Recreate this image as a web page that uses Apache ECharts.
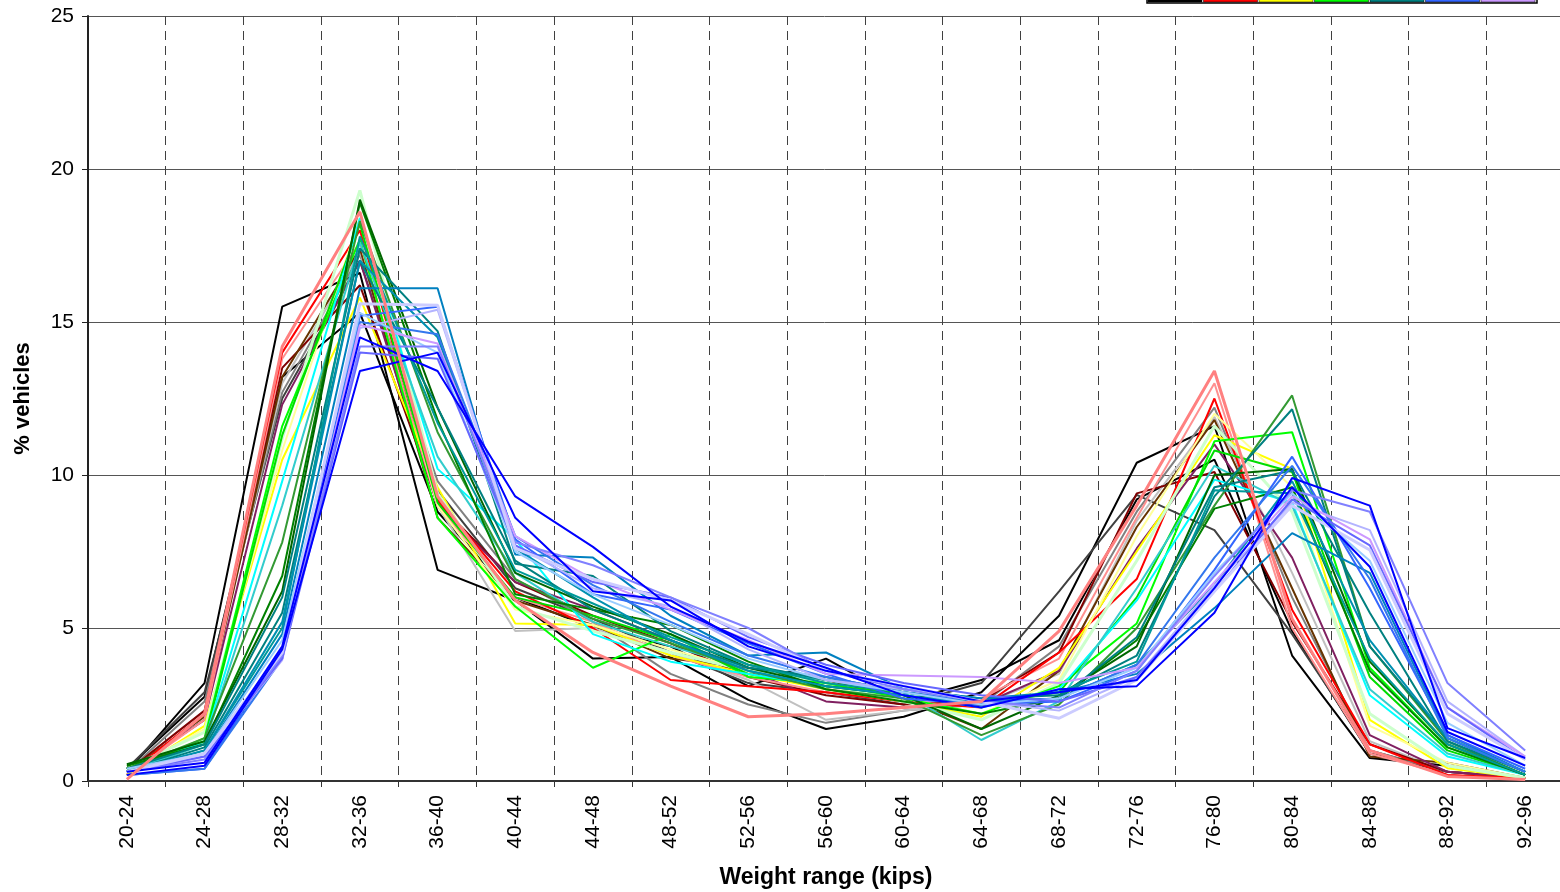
<!DOCTYPE html>
<html>
<head>
<meta charset="utf-8">
<script src="https://cdn.jsdelivr.net/npm/echarts@6/dist/echarts.min.js"></script>
<style>
  html, body { margin: 0; padding: 0; background: #fff; }
  #root { width: 1560px; height: 892px; }
</style>
</head>
<body>
<div id="root"></div>
<script>
// weight bins (kips)
const categories = ['20-24','24-28','28-32','32-36','36-40','40-44','44-48','48-52','52-56','56-60',
                    '60-64','64-68','68-72','72-76','76-80','80-84','84-88','88-92','92-96'];
const yTicks = [0, 5, 10, 15, 20, 25];

// % vehicles per bin, one array per station/year
const black1    = [0.3, 3.2, 15.5, 16.6, 6.9, 5.9, 4.0, 4.05, 2.65, 1.7, 2.1, 2.9, 5.4, 10.4, 11.6, 4.1, 0.75, 0.5, 0.1];
const black2    = [0.4, 2.75, 13.2, 15.3, 8.8, 6.0, 5.0, 4.4, 3.1, 4.0, 2.6, 3.3, 4.6, 9.2, 10.5, 4.9, 0.9, 0.3, 0.1];
const darkGray  = [0.4, 2.9, 12.5, 17.0, 9.5, 6.3, 5.3, 4.2, 3.2, 2.9, 2.5, 3.2, 6.2, 9.35, 8.2, 4.8, 1.0, 0.3, 0.1];
const gray      = [0.3, 2.6, 12.7, 17.2, 9.8, 6.6, 5.2, 3.5, 2.5, 1.9, 2.3, 2.5, 4.4, 8.8, 12.2, 6.0, 1.0, 0.3, 0.1];
const silver    = [0.3, 2.3, 13.0, 17.3, 9.0, 4.9, 5.0, 4.2, 3.3, 2.0, 2.3, 2.5, 3.5, 8.5, 11.9, 6.8, 1.3, 0.3, 0.1];
const darkRed   = [0.3, 2.3, 13.5, 16.2, 9.1, 6.5, 5.4, 4.5, 3.4, 2.8, 2.5, 2.6, 4.2, 9.4, 10.1, 5.2, 1.2, 0.3, 0.1];
const red       = [0.2, 2.2, 14.0, 18.0, 9.2, 6.2, 5.0, 3.3, 3.1, 2.9, 2.6, 2.4, 4.2, 6.6, 12.5, 5.6, 1.2, 0.2, 0.1];
const salmon    = [0.05, 2.2, 14.2, 18.6, 9.3, 5.9, 4.2, 3.1, 2.1, 2.2, 2.4, 2.6, 4.9, 9.0, 13.4, 5.3, 1.0, 0.15, 0.05];
const pink      = [0.2, 2.0, 13.8, 17.6, 9.0, 6.0, 5.2, 4.1, 3.4, 2.9, 2.6, 2.7, 4.0, 8.6, 13.0, 5.0, 0.9, 0.2, 0.05];
const brown     = [0.3, 2.1, 13.2, 17.4, 8.6, 5.9, 5.1, 4.0, 3.7, 3.3, 2.7, 1.7, 3.6, 8.3, 11.8, 6.3, 0.8, 0.6, 0.1];
const plum      = [0.3, 2.0, 12.3, 17.0, 9.0, 6.5, 5.6, 4.6, 3.6, 2.6, 2.4, 2.5, 3.6, 7.6, 11.0, 7.3, 1.5, 0.3, 0.1];
const yellow    = [0.2, 1.8, 10.5, 15.8, 9.6, 5.15, 5.1, 4.1, 3.5, 3.0, 2.6, 2.1, 3.7, 7.5, 11.3, 10.2, 2.0, 0.42, 0.1];
const lightYel  = [0.3, 1.7, 10.8, 18.4, 9.0, 5.6, 5.1, 4.3, 3.6, 3.1, 2.7, 2.2, 3.3, 8.0, 12.0, 9.6, 1.8, 0.6, 0.1];
const paleGreen = [0.4, 1.6, 11.2, 19.3, 9.4, 5.7, 4.9, 4.2, 3.6, 3.2, 2.6, 2.0, 3.2, 7.2, 11.6, 8.8, 2.2, 0.5, 0.1];
const lime      = [0.3, 1.4, 11.6, 17.7, 8.6, 5.7, 3.7, 4.8, 3.4, 3.2, 2.7, 2.2, 3.1, 5.15, 11.1, 11.4, 3.7, 1.1, 0.2];
const lime2     = [0.4, 1.3, 11.3, 18.2, 9.1, 6.0, 5.4, 4.6, 3.5, 3.1, 2.9, 2.5, 2.9, 6.0, 10.8, 10.1, 3.4, 1.0, 0.2];
const cyan      = [0.3, 1.3, 9.8, 18.4, 10.2, 7.9, 4.8, 3.9, 3.5, 3.1, 2.8, 2.4, 3.0, 5.9, 9.85, 9.1, 2.8, 0.8, 0.2];
const turquoise = [0.3, 1.2, 9.0, 17.6, 10.6, 6.8, 5.2, 4.4, 3.7, 3.3, 2.9, 1.34, 2.6, 6.3, 10.3, 9.0, 3.0, 0.9, 0.2];
const forest    = [0.4, 1.4, 7.8, 18.3, 11.4, 6.6, 5.3, 4.5, 3.6, 3.0, 2.7, 1.5, 2.5, 5.0, 9.0, 12.6, 4.4, 1.3, 0.2];
const green     = [0.5, 1.2, 6.7, 18.9, 11.8, 6.1, 5.6, 5.1, 3.9, 3.0, 2.6, 2.2, 2.7, 4.6, 8.9, 9.6, 3.6, 1.1, 0.2];
const darkGreen = [0.55, 1.3, 6.2, 19.0, 12.2, 6.8, 5.7, 4.8, 3.7, 3.1, 2.8, 1.7, 2.8, 4.4, 10.0, 10.2, 3.9, 1.2, 0.2];
const teal1     = [0.4, 1.2, 6.0, 17.4, 14.7, 7.1, 6.7, 4.9, 3.8, 3.3, 3.0, 2.7, 2.8, 4.1, 9.3, 12.15, 4.4, 1.4, 0.3];
const teal2     = [0.3, 1.1, 5.5, 17.0, 12.2, 7.2, 5.6, 4.6, 3.7, 3.4, 2.9, 2.6, 2.7, 4.7, 9.6, 10.15, 5.5, 1.3, 0.3];
const teal3     = [0.3, 1.0, 5.0, 17.8, 11.7, 6.9, 5.8, 4.7, 3.8, 3.2, 2.9, 2.6, 2.9, 3.9, 9.5, 9.4, 4.0, 1.2, 0.2];
const tealBlue  = [0.3, 0.9, 4.8, 16.1, 16.1, 7.4, 7.3, 5.4, 4.1, 4.2, 3.0, 2.7, 2.9, 3.5, 5.65, 8.1, 6.8, 1.5, 0.3];
const ocean     = [0.3, 1.0, 5.2, 17.0, 14.5, 7.6, 6.0, 4.6, 3.6, 3.1, 2.8, 2.5, 2.7, 3.8, 6.4, 9.8, 4.6, 1.4, 0.3];
const steelBlue = [0.2, 0.4, 4.2, 15.2, 15.5, 7.9, 6.1, 5.6, 4.5, 3.5, 2.7, 2.5, 2.6, 3.6, 6.9, 10.6, 6.3, 1.5, 0.4];
const royal     = [0.2, 0.4, 4.0, 15.0, 14.6, 8.0, 6.4, 5.2, 4.1, 3.4, 2.9, 2.6, 2.7, 3.8, 7.3, 10.3, 6.6, 1.4, 0.3];
const blue1     = [0.3, 0.6, 4.4, 14.5, 13.4, 9.3, 7.65, 5.7, 4.55, 3.7, 2.8, 2.4, 3.0, 3.1, 5.5, 9.9, 9.0, 1.73, 0.75];
const blue2     = [0.2, 0.5, 4.3, 13.4, 14.0, 8.6, 6.2, 5.9, 4.4, 3.6, 3.1, 2.6, 2.9, 3.3, 6.3, 9.6, 7.0, 1.6, 0.5];
const periwink1 = [0.3, 0.7, 4.1, 14.2, 14.2, 7.8, 7.05, 6.0, 5.0, 3.6, 3.0, 2.6, 2.4, 3.6, 6.7, 9.5, 8.8, 3.2, 1.0];
const periwink2 = [0.3, 0.8, 4.0, 14.0, 13.8, 7.7, 6.5, 6.0, 4.7, 3.8, 3.2, 2.8, 2.6, 3.4, 6.2, 9.2, 7.7, 2.4, 0.7];
const lavender  = [0.3, 0.8, 4.0, 14.9, 14.3, 8.0, 6.6, 5.6, 4.6, 3.5, 3.45, 3.4, 3.2, 3.7, 6.5, 9.3, 7.9, 2.4, 0.8];
const lightLav  = [0.3, 0.9, 4.2, 15.6, 15.55, 7.6, 6.6, 5.9, 4.8, 3.6, 3.1, 2.6, 2.05, 3.3, 6.2, 9.0, 7.55, 2.2, 0.7];
const lightLav2 = [0.3, 0.8, 3.95, 14.8, 15.4, 7.7, 6.3, 5.7, 4.3, 3.3, 3.0, 2.6, 2.3, 3.4, 6.4, 9.1, 8.2, 2.6, 0.8];
const lightBlue = [0.4, 0.9, 4.6, 15.3, 14.0, 7.5, 6.1, 5.1, 4.0, 3.3, 2.9, 2.5, 2.7, 3.7, 6.8, 9.4, 7.2, 1.9, 0.5];

// legend swatch colours (top right, mostly cut off)
const legendColors = ['#000000', '#ff0000', '#ffff00', '#00ff00', '#008080', '#3366ff', '#cc99ff'];

// [name, data, colour, width]
const lines = [
  ['black1', black1, '#000000', 2], ['black2', black2, '#000000', 2], ['darkGray', darkGray, '#404040', 2],
  ['gray', gray, '#808080', 2], ['silver', silver, '#c0c0c0', 2], ['darkRed', darkRed, '#800000', 2],
  ['brown', brown, '#663300', 2], ['plum', plum, '#802060', 2], ['pink', pink, '#ff9090', 2],
  ['red', red, '#ff0000', 2], ['yellow', yellow, '#ffff00', 2], ['lightYel', lightYel, '#ffff99', 2],
  ['paleGreen', paleGreen, '#ccffcc', 3], ['lime', lime, '#00ff00', 2], ['lime2', lime2, '#00dd00', 2],
  ['cyan', cyan, '#00ffff', 2], ['turquoise', turquoise, '#33cccc', 2], ['forest', forest, '#339933', 2],
  ['green', green, '#008000', 2], ['darkGreen', darkGreen, '#006600', 2], ['teal1', teal1, '#008080', 2],
  ['teal2', teal2, '#008080', 2], ['teal3', teal3, '#009999', 2], ['ocean', ocean, '#0090b0', 2],
  ['tealBlue', tealBlue, '#0080c0', 2], ['steelBlue', steelBlue, '#3366ff', 2], ['royal', royal, '#3377ee', 2],
  ['lightBlue', lightBlue, '#99ccff', 2], ['lightLav2', lightLav2, '#b3b3ff', 2], ['lavender', lavender, '#cc99ff', 2],
  ['periwink2', periwink2, '#6666ff', 2], ['periwink1', periwink1, '#8080ff', 2], ['lightLav', lightLav, '#ccccff', 3],
  ['blue2', blue2, '#0000ff', 2], ['blue1', blue1, '#0000ff', 2], ['salmon', salmon, '#ff8080', 3]
];

let root = document.getElementById('root');
let myCharts = echarts.init(root);

let legendGraphics = [{
  type: 'rect', shape: { x: 1147, y: -6, width: 390, height: 9 },
  style: { fill: '#fff', stroke: '#000', lineWidth: 1.5 }
}];
legendColors.forEach(function (c, i) {
  legendGraphics.push({
    type: 'rect', shape: { x: 1148 + i * 55.5, y: -2, width: 54, height: 4 },
    style: { fill: c, stroke: '#000', lineWidth: 0.5 }
  });
});

let option = {
  animation: false,
  backgroundColor: '#fff',
  textStyle: { fontFamily: 'Liberation Sans, Arial, sans-serif' },
  grid: { left: 88, top: 16, width: 1476, bottom: 111, outerBoundsMode: 'none', containLabel: false },
  xAxis: {
    type: 'category',
    data: categories,
    boundaryGap: true,
    name: 'Weight range (kips)',
    nameLocation: 'middle',
    nameGap: 85,
    nameTextStyle: { fontSize: 23, fontWeight: 'bold', color: '#000' },
    axisLine: { lineStyle: { color: '#333', width: 2 } },
    axisTick: { show: true, length: 6, lineStyle: { color: '#333' } },
    axisLabel: { rotate: 90, fontSize: 21, color: '#000', margin: 14, interval: 0 },
    splitLine: { show: true, lineStyle: { color: '#404040', type: [9, 6], width: 1 } }
  },
  yAxis: {
    type: 'value',
    min: yTicks[0],
    max: yTicks[yTicks.length - 1],
    interval: 5,
    name: '% vehicles',
    nameLocation: 'middle',
    nameGap: 54,
    nameTextStyle: { fontSize: 22, fontWeight: 'bold', color: '#000' },
    axisLine: { show: true, lineStyle: { color: '#222', width: 2 } },
    axisTick: { show: true, length: 6, lineStyle: { color: '#222' } },
    axisLabel: { fontSize: 21, color: '#000', margin: 14 },
    splitLine: { lineStyle: { color: '#555', width: 1 } }
  },
  graphic: legendGraphics,
  series: lines.map(function (l) {
    return {
      name: l[0],
      type: 'line',
      data: l[1],
      symbol: 'none',
      lineStyle: { color: l[2], width: l[3] },
      itemStyle: { color: l[2] }
    };
  })
};
myCharts.setOption(option);
</script>
</body>
</html>
